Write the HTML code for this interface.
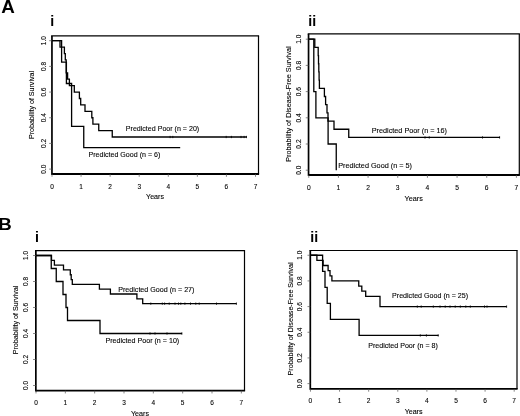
<!DOCTYPE html>
<html><head><meta charset="utf-8"><title>Figure</title>
<style>
html,body{margin:0;padding:0;background:#fff;}
body{width:520px;height:416px;overflow:hidden;}
svg{display:block;opacity:0.999;will-change:transform;font-family:'Liberation Sans', sans-serif;}
</style></head><body>
<svg width="520" height="416" viewBox="0 0 520 416">
<rect width="520" height="416" fill="#fff"/>
<line x1="51.10" y1="35.90" x2="259.10" y2="35.90" stroke="#000" stroke-width="1.2" />
<line x1="258.50" y1="35.90" x2="258.50" y2="174.00" stroke="#000" stroke-width="1.2" />
<line x1="51.95" y1="35.90" x2="51.95" y2="174.90" stroke="#000" stroke-width="1.7" />
<line x1="51.95" y1="174.00" x2="259.10" y2="174.00" stroke="#000" stroke-width="1.8" />
<line x1="52.00" y1="174.00" x2="52.00" y2="176.80" stroke="#555" stroke-width="0.7" />
<text x="52.00" y="188.63" font-size="6.5" text-anchor="middle" font-weight="normal" fill="#000" stroke="#000" stroke-width="0.1" >0</text>
<line x1="81.07" y1="174.00" x2="81.07" y2="176.80" stroke="#555" stroke-width="0.7" />
<text x="81.07" y="188.63" font-size="6.5" text-anchor="middle" font-weight="normal" fill="#000" stroke="#000" stroke-width="0.1" >1</text>
<line x1="110.14" y1="174.00" x2="110.14" y2="176.80" stroke="#555" stroke-width="0.7" />
<text x="110.14" y="188.63" font-size="6.5" text-anchor="middle" font-weight="normal" fill="#000" stroke="#000" stroke-width="0.1" >2</text>
<line x1="139.21" y1="174.00" x2="139.21" y2="176.80" stroke="#555" stroke-width="0.7" />
<text x="139.21" y="188.63" font-size="6.5" text-anchor="middle" font-weight="normal" fill="#000" stroke="#000" stroke-width="0.1" >3</text>
<line x1="168.29" y1="174.00" x2="168.29" y2="176.80" stroke="#555" stroke-width="0.7" />
<text x="168.29" y="188.63" font-size="6.5" text-anchor="middle" font-weight="normal" fill="#000" stroke="#000" stroke-width="0.1" >4</text>
<line x1="197.36" y1="174.00" x2="197.36" y2="176.80" stroke="#555" stroke-width="0.7" />
<text x="197.36" y="188.63" font-size="6.5" text-anchor="middle" font-weight="normal" fill="#000" stroke="#000" stroke-width="0.1" >5</text>
<line x1="226.43" y1="174.00" x2="226.43" y2="176.80" stroke="#555" stroke-width="0.7" />
<text x="226.43" y="188.63" font-size="6.5" text-anchor="middle" font-weight="normal" fill="#000" stroke="#000" stroke-width="0.1" >6</text>
<line x1="255.50" y1="174.00" x2="255.50" y2="176.80" stroke="#555" stroke-width="0.7" />
<text x="255.50" y="188.63" font-size="6.5" text-anchor="middle" font-weight="normal" fill="#000" stroke="#000" stroke-width="0.1" >7</text>
<line x1="49.15" y1="169.10" x2="51.95" y2="169.10" stroke="#555" stroke-width="0.7" />
<text x="45.80" y="169.10" font-size="6.5" text-anchor="middle" font-weight="normal" fill="#000" stroke="#000" stroke-width="0.1" transform="rotate(-90 45.80 169.10)" >0.0</text>
<line x1="49.15" y1="143.42" x2="51.95" y2="143.42" stroke="#555" stroke-width="0.7" />
<text x="45.80" y="143.42" font-size="6.5" text-anchor="middle" font-weight="normal" fill="#000" stroke="#000" stroke-width="0.1" transform="rotate(-90 45.80 143.42)" >0.2</text>
<line x1="49.15" y1="117.74" x2="51.95" y2="117.74" stroke="#555" stroke-width="0.7" />
<text x="45.80" y="117.74" font-size="6.5" text-anchor="middle" font-weight="normal" fill="#000" stroke="#000" stroke-width="0.1" transform="rotate(-90 45.80 117.74)" >0.4</text>
<line x1="49.15" y1="92.06" x2="51.95" y2="92.06" stroke="#555" stroke-width="0.7" />
<text x="45.80" y="92.06" font-size="6.5" text-anchor="middle" font-weight="normal" fill="#000" stroke="#000" stroke-width="0.1" transform="rotate(-90 45.80 92.06)" >0.6</text>
<line x1="49.15" y1="66.38" x2="51.95" y2="66.38" stroke="#555" stroke-width="0.7" />
<text x="45.80" y="66.38" font-size="6.5" text-anchor="middle" font-weight="normal" fill="#000" stroke="#000" stroke-width="0.1" transform="rotate(-90 45.80 66.38)" >0.8</text>
<line x1="49.15" y1="40.70" x2="51.95" y2="40.70" stroke="#555" stroke-width="0.7" />
<text x="45.80" y="40.70" font-size="6.5" text-anchor="middle" font-weight="normal" fill="#000" stroke="#000" stroke-width="0.1" transform="rotate(-90 45.80 40.70)" >1.0</text>
<text x="34.00" y="105.00" font-size="7.08" text-anchor="middle" font-weight="normal" fill="#000" stroke="#000" stroke-width="0.1" transform="rotate(-90 34.00 105.00)" >Probability of Survival</text>
<text x="155.00" y="199.03" font-size="7.08" text-anchor="middle" font-weight="normal" fill="#000" stroke="#000" stroke-width="0.1" >Years</text>
<text x="52.30" y="25.60" font-size="14.2" text-anchor="middle" font-weight="bold" fill="#000" stroke="#000" stroke-width="0" >i</text>
<path d="M52.00,40.70 L60.00,40.70 L60.00,47.12 L64.40,47.12 L64.40,53.54 L65.30,53.54 L65.30,59.96 L66.20,59.96 L66.20,72.80 L67.60,72.80 L67.60,79.22 L69.40,79.22 L69.40,85.64 L74.30,85.64 L74.30,92.06 L79.40,92.06 L79.40,98.48 L80.70,98.48 L80.70,104.90 L85.00,104.90 L85.00,111.32 L91.80,111.32 L91.80,117.74 L92.90,117.74 L92.90,124.16 L98.75,124.16 L98.75,130.58 L112.25,130.58 L112.25,137.00 L246.60,137.00" fill="none" stroke="#000" stroke-width="1.3" stroke-linejoin="miter"/>
<line x1="170.10" y1="135.85" x2="170.10" y2="138.15" stroke="#000" stroke-width="0.8" />
<line x1="172.80" y1="135.85" x2="172.80" y2="138.15" stroke="#000" stroke-width="0.8" />
<line x1="226.20" y1="135.85" x2="226.20" y2="138.15" stroke="#000" stroke-width="0.8" />
<line x1="231.40" y1="135.85" x2="231.40" y2="138.15" stroke="#000" stroke-width="0.8" />
<line x1="241.00" y1="135.85" x2="241.00" y2="138.15" stroke="#000" stroke-width="0.8" />
<line x1="244.10" y1="135.85" x2="244.10" y2="138.15" stroke="#000" stroke-width="0.8" />
<line x1="246.50" y1="135.85" x2="246.50" y2="138.15" stroke="#000" stroke-width="0.8" />
<path d="M52.00,40.70 L61.60,40.70 L61.60,62.10 L66.40,62.10 L66.40,83.50 L71.60,83.50 L71.60,126.30 L83.75,126.30 L83.75,147.70 L180.20,147.70" fill="none" stroke="#000" stroke-width="1.3" stroke-linejoin="miter"/>
<text x="125.80" y="131.40" font-size="7.08" text-anchor="start" font-weight="normal" fill="#000" stroke="#000" stroke-width="0.1" >Predicted Poor (n = 20)</text>
<text x="88.50" y="156.90" font-size="7.08" text-anchor="start" font-weight="normal" fill="#000" stroke="#000" stroke-width="0.1" >Predicted Good (n = 6)</text>
<line x1="307.70" y1="33.90" x2="519.90" y2="33.90" stroke="#000" stroke-width="1.2" />
<line x1="519.30" y1="33.90" x2="519.30" y2="175.00" stroke="#000" stroke-width="1.2" />
<line x1="308.55" y1="33.90" x2="308.55" y2="175.90" stroke="#000" stroke-width="1.7" />
<line x1="308.55" y1="175.00" x2="519.90" y2="175.00" stroke="#000" stroke-width="1.8" />
<line x1="308.75" y1="175.00" x2="308.75" y2="177.80" stroke="#555" stroke-width="0.7" />
<text x="308.75" y="189.90" font-size="6.7" text-anchor="middle" font-weight="normal" fill="#000" stroke="#000" stroke-width="0.1" >0</text>
<line x1="338.41" y1="175.00" x2="338.41" y2="177.80" stroke="#555" stroke-width="0.7" />
<text x="338.41" y="189.90" font-size="6.7" text-anchor="middle" font-weight="normal" fill="#000" stroke="#000" stroke-width="0.1" >1</text>
<line x1="368.08" y1="175.00" x2="368.08" y2="177.80" stroke="#555" stroke-width="0.7" />
<text x="368.08" y="189.90" font-size="6.7" text-anchor="middle" font-weight="normal" fill="#000" stroke="#000" stroke-width="0.1" >2</text>
<line x1="397.74" y1="175.00" x2="397.74" y2="177.80" stroke="#555" stroke-width="0.7" />
<text x="397.74" y="189.90" font-size="6.7" text-anchor="middle" font-weight="normal" fill="#000" stroke="#000" stroke-width="0.1" >3</text>
<line x1="427.41" y1="175.00" x2="427.41" y2="177.80" stroke="#555" stroke-width="0.7" />
<text x="427.41" y="189.90" font-size="6.7" text-anchor="middle" font-weight="normal" fill="#000" stroke="#000" stroke-width="0.1" >4</text>
<line x1="457.07" y1="175.00" x2="457.07" y2="177.80" stroke="#555" stroke-width="0.7" />
<text x="457.07" y="189.90" font-size="6.7" text-anchor="middle" font-weight="normal" fill="#000" stroke="#000" stroke-width="0.1" >5</text>
<line x1="486.74" y1="175.00" x2="486.74" y2="177.80" stroke="#555" stroke-width="0.7" />
<text x="486.74" y="189.90" font-size="6.7" text-anchor="middle" font-weight="normal" fill="#000" stroke="#000" stroke-width="0.1" >6</text>
<line x1="516.40" y1="175.00" x2="516.40" y2="177.80" stroke="#555" stroke-width="0.7" />
<text x="516.40" y="189.90" font-size="6.7" text-anchor="middle" font-weight="normal" fill="#000" stroke="#000" stroke-width="0.1" >7</text>
<line x1="305.75" y1="170.20" x2="308.55" y2="170.20" stroke="#555" stroke-width="0.7" />
<text x="301.00" y="170.20" font-size="6.7" text-anchor="middle" font-weight="normal" fill="#000" stroke="#000" stroke-width="0.1" transform="rotate(-90 301.00 170.20)" >0.0</text>
<line x1="305.75" y1="144.00" x2="308.55" y2="144.00" stroke="#555" stroke-width="0.7" />
<text x="301.00" y="144.00" font-size="6.7" text-anchor="middle" font-weight="normal" fill="#000" stroke="#000" stroke-width="0.1" transform="rotate(-90 301.00 144.00)" >0.2</text>
<line x1="305.75" y1="117.80" x2="308.55" y2="117.80" stroke="#555" stroke-width="0.7" />
<text x="301.00" y="117.80" font-size="6.7" text-anchor="middle" font-weight="normal" fill="#000" stroke="#000" stroke-width="0.1" transform="rotate(-90 301.00 117.80)" >0.4</text>
<line x1="305.75" y1="91.60" x2="308.55" y2="91.60" stroke="#555" stroke-width="0.7" />
<text x="301.00" y="91.60" font-size="6.7" text-anchor="middle" font-weight="normal" fill="#000" stroke="#000" stroke-width="0.1" transform="rotate(-90 301.00 91.60)" >0.6</text>
<line x1="305.75" y1="65.40" x2="308.55" y2="65.40" stroke="#555" stroke-width="0.7" />
<text x="301.00" y="65.40" font-size="6.7" text-anchor="middle" font-weight="normal" fill="#000" stroke="#000" stroke-width="0.1" transform="rotate(-90 301.00 65.40)" >0.8</text>
<line x1="305.75" y1="39.20" x2="308.55" y2="39.20" stroke="#555" stroke-width="0.7" />
<text x="301.00" y="39.20" font-size="6.7" text-anchor="middle" font-weight="normal" fill="#000" stroke="#000" stroke-width="0.1" transform="rotate(-90 301.00 39.20)" >1.0</text>
<text x="291.20" y="104.10" font-size="7.27" text-anchor="middle" font-weight="normal" fill="#000" stroke="#000" stroke-width="0.1" transform="rotate(-90 291.20 104.10)" >Probability of Disease-Free Survival</text>
<text x="413.75" y="200.85" font-size="7.27" text-anchor="middle" font-weight="normal" fill="#000" stroke="#000" stroke-width="0.1" >Years</text>
<text x="312.20" y="25.60" font-size="14.2" text-anchor="middle" font-weight="bold" fill="#000" stroke="#000" stroke-width="0" >ii</text>
<path d="M308.70,39.20 L314.80,39.20 L314.80,47.39 L318.20,47.39 L318.20,55.57 L318.50,55.57 L318.50,63.76 L318.80,63.76 L318.80,71.95 L319.10,71.95 L319.10,80.14 L319.40,80.14 L319.40,88.32 L324.40,88.32 L324.40,96.51 L325.60,96.51 L325.60,104.70 L327.00,104.70 L327.00,112.89 L328.00,112.89 L328.00,121.07 L334.00,121.07 L334.00,129.26 L348.75,129.26 L348.75,137.45 L500.00,137.45" fill="none" stroke="#000" stroke-width="1.3" stroke-linejoin="miter"/>
<line x1="425.00" y1="136.30" x2="425.00" y2="138.60" stroke="#000" stroke-width="0.8" />
<line x1="429.25" y1="136.30" x2="429.25" y2="138.60" stroke="#000" stroke-width="0.8" />
<line x1="482.50" y1="136.30" x2="482.50" y2="138.60" stroke="#000" stroke-width="0.8" />
<line x1="499.60" y1="136.30" x2="499.60" y2="138.60" stroke="#000" stroke-width="0.8" />
<path d="M308.70,39.20 L313.80,39.20 L313.80,91.60 L315.90,91.60 L315.90,117.80 L328.10,117.80 L328.10,144.00 L336.25,144.00 L336.25,170.20" fill="none" stroke="#000" stroke-width="1.3" stroke-linejoin="miter"/>
<text x="447.00" y="132.50" font-size="7.27" text-anchor="end" font-weight="normal" fill="#000" stroke="#000" stroke-width="0.1" >Predicted Poor (n = 16)</text>
<text x="338.25" y="168.30" font-size="7.27" text-anchor="start" font-weight="normal" fill="#000" stroke="#000" stroke-width="0.1" >Predicted Good (n = 5)</text>
<line x1="35.00" y1="250.70" x2="245.10" y2="250.70" stroke="#000" stroke-width="1.2" />
<line x1="244.50" y1="250.70" x2="244.50" y2="390.65" stroke="#000" stroke-width="1.2" />
<line x1="35.85" y1="250.70" x2="35.85" y2="391.55" stroke="#000" stroke-width="1.7" />
<line x1="35.85" y1="390.65" x2="245.10" y2="390.65" stroke="#000" stroke-width="1.8" />
<line x1="36.00" y1="390.65" x2="36.00" y2="393.45" stroke="#555" stroke-width="0.7" />
<text x="36.00" y="404.83" font-size="6.5" text-anchor="middle" font-weight="normal" fill="#000" stroke="#000" stroke-width="0.1" >0</text>
<line x1="65.34" y1="390.65" x2="65.34" y2="393.45" stroke="#555" stroke-width="0.7" />
<text x="65.34" y="404.83" font-size="6.5" text-anchor="middle" font-weight="normal" fill="#000" stroke="#000" stroke-width="0.1" >1</text>
<line x1="94.67" y1="390.65" x2="94.67" y2="393.45" stroke="#555" stroke-width="0.7" />
<text x="94.67" y="404.83" font-size="6.5" text-anchor="middle" font-weight="normal" fill="#000" stroke="#000" stroke-width="0.1" >2</text>
<line x1="124.01" y1="390.65" x2="124.01" y2="393.45" stroke="#555" stroke-width="0.7" />
<text x="124.01" y="404.83" font-size="6.5" text-anchor="middle" font-weight="normal" fill="#000" stroke="#000" stroke-width="0.1" >3</text>
<line x1="153.34" y1="390.65" x2="153.34" y2="393.45" stroke="#555" stroke-width="0.7" />
<text x="153.34" y="404.83" font-size="6.5" text-anchor="middle" font-weight="normal" fill="#000" stroke="#000" stroke-width="0.1" >4</text>
<line x1="182.68" y1="390.65" x2="182.68" y2="393.45" stroke="#555" stroke-width="0.7" />
<text x="182.68" y="404.83" font-size="6.5" text-anchor="middle" font-weight="normal" fill="#000" stroke="#000" stroke-width="0.1" >5</text>
<line x1="212.01" y1="390.65" x2="212.01" y2="393.45" stroke="#555" stroke-width="0.7" />
<text x="212.01" y="404.83" font-size="6.5" text-anchor="middle" font-weight="normal" fill="#000" stroke="#000" stroke-width="0.1" >6</text>
<line x1="241.35" y1="390.65" x2="241.35" y2="393.45" stroke="#555" stroke-width="0.7" />
<text x="241.35" y="404.83" font-size="6.5" text-anchor="middle" font-weight="normal" fill="#000" stroke="#000" stroke-width="0.1" >7</text>
<line x1="33.05" y1="385.50" x2="35.85" y2="385.50" stroke="#555" stroke-width="0.7" />
<text x="28.40" y="385.50" font-size="6.5" text-anchor="middle" font-weight="normal" fill="#000" stroke="#000" stroke-width="0.1" transform="rotate(-90 28.40 385.50)" >0.0</text>
<line x1="33.05" y1="359.50" x2="35.85" y2="359.50" stroke="#555" stroke-width="0.7" />
<text x="28.40" y="359.50" font-size="6.5" text-anchor="middle" font-weight="normal" fill="#000" stroke="#000" stroke-width="0.1" transform="rotate(-90 28.40 359.50)" >0.2</text>
<line x1="33.05" y1="333.50" x2="35.85" y2="333.50" stroke="#555" stroke-width="0.7" />
<text x="28.40" y="333.50" font-size="6.5" text-anchor="middle" font-weight="normal" fill="#000" stroke="#000" stroke-width="0.1" transform="rotate(-90 28.40 333.50)" >0.4</text>
<line x1="33.05" y1="307.50" x2="35.85" y2="307.50" stroke="#555" stroke-width="0.7" />
<text x="28.40" y="307.50" font-size="6.5" text-anchor="middle" font-weight="normal" fill="#000" stroke="#000" stroke-width="0.1" transform="rotate(-90 28.40 307.50)" >0.6</text>
<line x1="33.05" y1="281.50" x2="35.85" y2="281.50" stroke="#555" stroke-width="0.7" />
<text x="28.40" y="281.50" font-size="6.5" text-anchor="middle" font-weight="normal" fill="#000" stroke="#000" stroke-width="0.1" transform="rotate(-90 28.40 281.50)" >0.8</text>
<line x1="33.05" y1="255.50" x2="35.85" y2="255.50" stroke="#555" stroke-width="0.7" />
<text x="28.40" y="255.50" font-size="6.5" text-anchor="middle" font-weight="normal" fill="#000" stroke="#000" stroke-width="0.1" transform="rotate(-90 28.40 255.50)" >1.0</text>
<text x="18.00" y="320.00" font-size="7.14" text-anchor="middle" font-weight="normal" fill="#000" stroke="#000" stroke-width="0.1" transform="rotate(-90 18.00 320.00)" >Probability of Survival</text>
<text x="140.00" y="415.81" font-size="7.14" text-anchor="middle" font-weight="normal" fill="#000" stroke="#000" stroke-width="0.1" >Years</text>
<text x="36.90" y="241.75" font-size="14.2" text-anchor="middle" font-weight="bold" fill="#000" stroke="#000" stroke-width="0" >i</text>
<path d="M36.00,255.50 L51.50,255.50 L51.50,260.31 L54.40,260.31 L54.40,265.13 L63.50,265.13 L63.50,269.94 L70.30,269.94 L70.30,274.76 L71.20,274.76 L71.20,279.57 L72.30,279.57 L72.30,284.39 L99.40,284.39 L99.40,289.20 L110.40,289.20 L110.40,294.02 L136.90,294.02 L136.90,298.83 L142.70,298.83 L142.70,303.65 L236.50,303.65" fill="none" stroke="#000" stroke-width="1.3" stroke-linejoin="miter"/>
<line x1="150.80" y1="302.50" x2="150.80" y2="304.80" stroke="#000" stroke-width="0.8" />
<line x1="162.30" y1="302.50" x2="162.30" y2="304.80" stroke="#000" stroke-width="0.8" />
<line x1="164.60" y1="302.50" x2="164.60" y2="304.80" stroke="#000" stroke-width="0.8" />
<line x1="169.20" y1="302.50" x2="169.20" y2="304.80" stroke="#000" stroke-width="0.8" />
<line x1="175.00" y1="302.50" x2="175.00" y2="304.80" stroke="#000" stroke-width="0.8" />
<line x1="178.50" y1="302.50" x2="178.50" y2="304.80" stroke="#000" stroke-width="0.8" />
<line x1="180.80" y1="302.50" x2="180.80" y2="304.80" stroke="#000" stroke-width="0.8" />
<line x1="184.90" y1="302.50" x2="184.90" y2="304.80" stroke="#000" stroke-width="0.8" />
<line x1="190.50" y1="302.50" x2="190.50" y2="304.80" stroke="#000" stroke-width="0.8" />
<line x1="195.80" y1="302.50" x2="195.80" y2="304.80" stroke="#000" stroke-width="0.8" />
<line x1="199.20" y1="302.50" x2="199.20" y2="304.80" stroke="#000" stroke-width="0.8" />
<line x1="216.50" y1="302.50" x2="216.50" y2="304.80" stroke="#000" stroke-width="0.8" />
<line x1="236.40" y1="302.50" x2="236.40" y2="304.80" stroke="#000" stroke-width="0.8" />
<path d="M36.00,255.50 L51.25,255.50 L51.25,268.50 L56.25,268.50 L56.25,281.50 L63.00,281.50 L63.00,294.50 L66.00,294.50 L66.00,307.50 L67.50,307.50 L67.50,320.50 L100.00,320.50 L100.00,333.50 L182.00,333.50" fill="none" stroke="#000" stroke-width="1.3" stroke-linejoin="miter"/>
<line x1="150.00" y1="332.35" x2="150.00" y2="334.65" stroke="#000" stroke-width="0.8" />
<line x1="155.00" y1="332.35" x2="155.00" y2="334.65" stroke="#000" stroke-width="0.8" />
<line x1="167.00" y1="332.35" x2="167.00" y2="334.65" stroke="#000" stroke-width="0.8" />
<line x1="181.90" y1="332.35" x2="181.90" y2="334.65" stroke="#000" stroke-width="0.8" />
<text x="118.20" y="291.60" font-size="7.14" text-anchor="start" font-weight="normal" fill="#000" stroke="#000" stroke-width="0.1" >Predicted Good (n = 27)</text>
<text x="179.25" y="343.30" font-size="7.14" text-anchor="end" font-weight="normal" fill="#000" stroke="#000" stroke-width="0.1" >Predicted Poor (n = 10)</text>
<line x1="309.45" y1="250.50" x2="517.60" y2="250.50" stroke="#000" stroke-width="1.2" />
<line x1="517.00" y1="250.50" x2="517.00" y2="388.90" stroke="#000" stroke-width="1.2" />
<line x1="310.30" y1="250.50" x2="310.30" y2="389.80" stroke="#000" stroke-width="1.7" />
<line x1="310.30" y1="388.90" x2="517.60" y2="388.90" stroke="#000" stroke-width="1.8" />
<line x1="310.45" y1="388.90" x2="310.45" y2="391.70" stroke="#555" stroke-width="0.7" />
<text x="310.45" y="403.06" font-size="6.6" text-anchor="middle" font-weight="normal" fill="#000" stroke="#000" stroke-width="0.1" >0</text>
<line x1="339.56" y1="388.90" x2="339.56" y2="391.70" stroke="#555" stroke-width="0.7" />
<text x="339.56" y="403.06" font-size="6.6" text-anchor="middle" font-weight="normal" fill="#000" stroke="#000" stroke-width="0.1" >1</text>
<line x1="368.66" y1="388.90" x2="368.66" y2="391.70" stroke="#555" stroke-width="0.7" />
<text x="368.66" y="403.06" font-size="6.6" text-anchor="middle" font-weight="normal" fill="#000" stroke="#000" stroke-width="0.1" >2</text>
<line x1="397.77" y1="388.90" x2="397.77" y2="391.70" stroke="#555" stroke-width="0.7" />
<text x="397.77" y="403.06" font-size="6.6" text-anchor="middle" font-weight="normal" fill="#000" stroke="#000" stroke-width="0.1" >3</text>
<line x1="426.88" y1="388.90" x2="426.88" y2="391.70" stroke="#555" stroke-width="0.7" />
<text x="426.88" y="403.06" font-size="6.6" text-anchor="middle" font-weight="normal" fill="#000" stroke="#000" stroke-width="0.1" >4</text>
<line x1="455.99" y1="388.90" x2="455.99" y2="391.70" stroke="#555" stroke-width="0.7" />
<text x="455.99" y="403.06" font-size="6.6" text-anchor="middle" font-weight="normal" fill="#000" stroke="#000" stroke-width="0.1" >5</text>
<line x1="485.09" y1="388.90" x2="485.09" y2="391.70" stroke="#555" stroke-width="0.7" />
<text x="485.09" y="403.06" font-size="6.6" text-anchor="middle" font-weight="normal" fill="#000" stroke="#000" stroke-width="0.1" >6</text>
<line x1="514.20" y1="388.90" x2="514.20" y2="391.70" stroke="#555" stroke-width="0.7" />
<text x="514.20" y="403.06" font-size="6.6" text-anchor="middle" font-weight="normal" fill="#000" stroke="#000" stroke-width="0.1" >7</text>
<line x1="307.50" y1="383.60" x2="310.30" y2="383.60" stroke="#555" stroke-width="0.7" />
<text x="302.20" y="383.60" font-size="6.6" text-anchor="middle" font-weight="normal" fill="#000" stroke="#000" stroke-width="0.1" transform="rotate(-90 302.20 383.60)" >0.0</text>
<line x1="307.50" y1="357.93" x2="310.30" y2="357.93" stroke="#555" stroke-width="0.7" />
<text x="302.20" y="357.93" font-size="6.6" text-anchor="middle" font-weight="normal" fill="#000" stroke="#000" stroke-width="0.1" transform="rotate(-90 302.20 357.93)" >0.2</text>
<line x1="307.50" y1="332.26" x2="310.30" y2="332.26" stroke="#555" stroke-width="0.7" />
<text x="302.20" y="332.26" font-size="6.6" text-anchor="middle" font-weight="normal" fill="#000" stroke="#000" stroke-width="0.1" transform="rotate(-90 302.20 332.26)" >0.4</text>
<line x1="307.50" y1="306.59" x2="310.30" y2="306.59" stroke="#555" stroke-width="0.7" />
<text x="302.20" y="306.59" font-size="6.6" text-anchor="middle" font-weight="normal" fill="#000" stroke="#000" stroke-width="0.1" transform="rotate(-90 302.20 306.59)" >0.6</text>
<line x1="307.50" y1="280.92" x2="310.30" y2="280.92" stroke="#555" stroke-width="0.7" />
<text x="302.20" y="280.92" font-size="6.6" text-anchor="middle" font-weight="normal" fill="#000" stroke="#000" stroke-width="0.1" transform="rotate(-90 302.20 280.92)" >0.8</text>
<line x1="307.50" y1="255.25" x2="310.30" y2="255.25" stroke="#555" stroke-width="0.7" />
<text x="302.20" y="255.25" font-size="6.6" text-anchor="middle" font-weight="normal" fill="#000" stroke="#000" stroke-width="0.1" transform="rotate(-90 302.20 255.25)" >1.0</text>
<text x="293.20" y="318.90" font-size="7.12" text-anchor="middle" font-weight="normal" fill="#000" stroke="#000" stroke-width="0.1" transform="rotate(-90 293.20 318.90)" >Probability of Disease-Free Survival</text>
<text x="413.60" y="413.75" font-size="7.12" text-anchor="middle" font-weight="normal" fill="#000" stroke="#000" stroke-width="0.1" >Years</text>
<text x="314.30" y="241.50" font-size="14.2" text-anchor="middle" font-weight="bold" fill="#000" stroke="#000" stroke-width="0" >ii</text>
<path d="M310.40,255.25 L316.90,255.25 L316.90,260.38 L323.10,260.38 L323.10,265.52 L328.10,265.52 L328.10,270.65 L330.00,270.65 L330.00,275.79 L331.90,275.79 L331.90,280.92 L358.75,280.92 L358.75,286.05 L361.80,286.05 L361.80,291.19 L365.70,291.19 L365.70,296.32 L380.00,296.32 L380.00,306.59 L506.70,306.59" fill="none" stroke="#000" stroke-width="1.3" stroke-linejoin="miter"/>
<line x1="417.30" y1="305.44" x2="417.30" y2="307.74" stroke="#000" stroke-width="0.8" />
<line x1="421.20" y1="305.44" x2="421.20" y2="307.74" stroke="#000" stroke-width="0.8" />
<line x1="433.30" y1="305.44" x2="433.30" y2="307.74" stroke="#000" stroke-width="0.8" />
<line x1="440.00" y1="305.44" x2="440.00" y2="307.74" stroke="#000" stroke-width="0.8" />
<line x1="445.20" y1="305.44" x2="445.20" y2="307.74" stroke="#000" stroke-width="0.8" />
<line x1="450.00" y1="305.44" x2="450.00" y2="307.74" stroke="#000" stroke-width="0.8" />
<line x1="455.20" y1="305.44" x2="455.20" y2="307.74" stroke="#000" stroke-width="0.8" />
<line x1="460.30" y1="305.44" x2="460.30" y2="307.74" stroke="#000" stroke-width="0.8" />
<line x1="465.80" y1="305.44" x2="465.80" y2="307.74" stroke="#000" stroke-width="0.8" />
<line x1="470.30" y1="305.44" x2="470.30" y2="307.74" stroke="#000" stroke-width="0.8" />
<line x1="484.50" y1="305.44" x2="484.50" y2="307.74" stroke="#000" stroke-width="0.8" />
<line x1="487.00" y1="305.44" x2="487.00" y2="307.74" stroke="#000" stroke-width="0.8" />
<line x1="506.60" y1="305.44" x2="506.60" y2="307.74" stroke="#000" stroke-width="0.8" />
<path d="M310.40,255.25 L322.60,255.25 L322.60,271.29 L325.00,271.29 L325.00,287.34 L327.20,287.34 L327.20,303.38 L330.40,303.38 L330.40,319.43 L359.10,319.43 L359.10,335.47 L438.50,335.47" fill="none" stroke="#000" stroke-width="1.3" stroke-linejoin="miter"/>
<line x1="420.30" y1="334.32" x2="420.30" y2="336.62" stroke="#000" stroke-width="0.8" />
<line x1="426.40" y1="334.32" x2="426.40" y2="336.62" stroke="#000" stroke-width="0.8" />
<line x1="438.20" y1="334.32" x2="438.20" y2="336.62" stroke="#000" stroke-width="0.8" />
<text x="468.10" y="297.60" font-size="7.12" text-anchor="end" font-weight="normal" fill="#000" stroke="#000" stroke-width="0.1" >Predicted Good (n = 25)</text>
<text x="437.90" y="348.20" font-size="7.12" text-anchor="end" font-weight="normal" fill="#000" stroke="#000" stroke-width="0.1" >Predicted Poor (n = 8)</text>
<text transform="translate(1.3 12.85) scale(1.057 1)" font-size="17.8" font-weight="bold" fill="#000">A</text>
<text transform="translate(-1.75 230.1) scale(1.1 1)" font-size="17.0" font-weight="bold" fill="#000">B</text>
</svg>
</body></html>
